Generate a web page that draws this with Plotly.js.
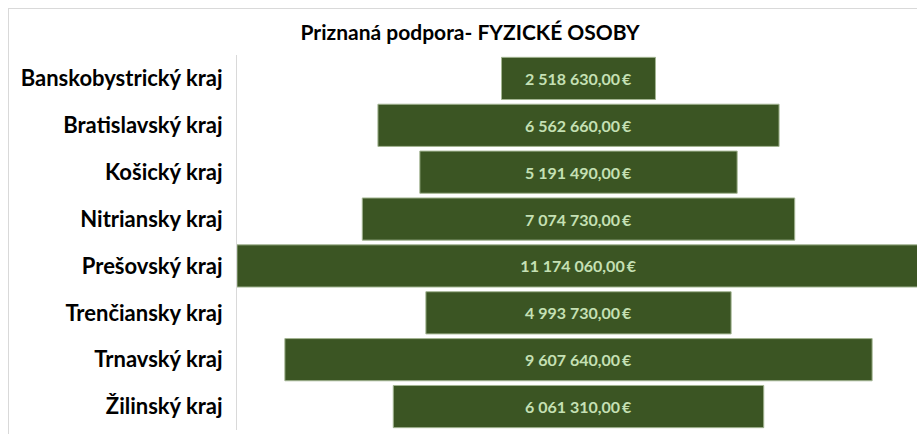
<!DOCTYPE html>
<html>
<head>
<meta charset="utf-8">
<script src="https://cdn.plot.ly/plotly-3.0.1.min.js"></script>
<style>
html,body{margin:0;padding:0;background:#fff;overflow:hidden;}
#wrap{position:relative;width:917px;height:434px;overflow:hidden;}
#chart{width:920px;height:434px;}
#frame{position:absolute;left:8px;top:8px;width:920px;height:440px;border-left:1px solid #d9d9d9;border-top:1px solid #d9d9d9;pointer-events:none;}
</style>
</head>
<body>
<div id="wrap"><div id="chart"></div><div id="frame"></div></div>
<script>
var categories = ["Banskobystrický kraj","Bratislavský kraj","Košický kraj","Nitriansky kraj","Prešovský kraj","Trenčiansky kraj","Trnavský kraj","Žilinský kraj"];
var values = [2518630, 6562660, 5191490, 7074730, 11174060, 4993730, 9607640, 6061310];
var titleText = "Priznaná podpora- FYZICKÉ OSOBY";

function fmt(v){
  var s = Math.round(v).toString().replace(/\B(?=(\d{3})+(?!\d))/g, " ");
  return s + ",00\u2009€";
}
var maxV = Math.max.apply(null, values);

var trace = {
  type: 'bar',
  orientation: 'h',
  y: categories,
  x: values,
  base: values.map(function(v){return -v/2;}),
  text: values.map(fmt),
  textposition: 'inside',
  insidetextanchor: 'middle',
  textangle: 0,
  textfont: {family: 'Lato, "Open Sans", sans-serif', size: 16, color: '#c5e0b4', weight: 'bold'},
  marker: {color: '#3b5523', line: {color: '#a3b592', width: 1}},
  hoverinfo: 'none',
  width: 0.9
};

var layout = {
  width: 920, height: 434,
  margin: {l: 237, r: 0, t: 55, b: 4, pad: 0},
  paper_bgcolor: '#fff', plot_bgcolor: '#fff',
  showlegend: false,
  title: {text: titleText, font: {family: 'Lato, "Open Sans", sans-serif', size: 21, color: '#000', weight: 'bold'},
          xref: 'container', x: 0.511, xanchor: 'center', yref: 'container', y: 0.924, yanchor: 'middle'},
  xaxis: {range: [-maxV/2, maxV/2], visible: false, fixedrange: true},
  yaxis: {autorange: 'reversed', type: 'category', showline: true, linecolor: '#d9d9d9', linewidth: 1,
          showgrid: false, zeroline: false, ticks: '', ticklabelstandoff: 9,
          tickfont: {family: 'Lato, "Open Sans", sans-serif', size: 22, color: '#000', weight: 'bold'}},
  bargap: 0.1
};

Plotly.newPlot('chart', [trace], layout, {displayModeBar: false, staticPlot: true});
</script>
</body>
</html>
